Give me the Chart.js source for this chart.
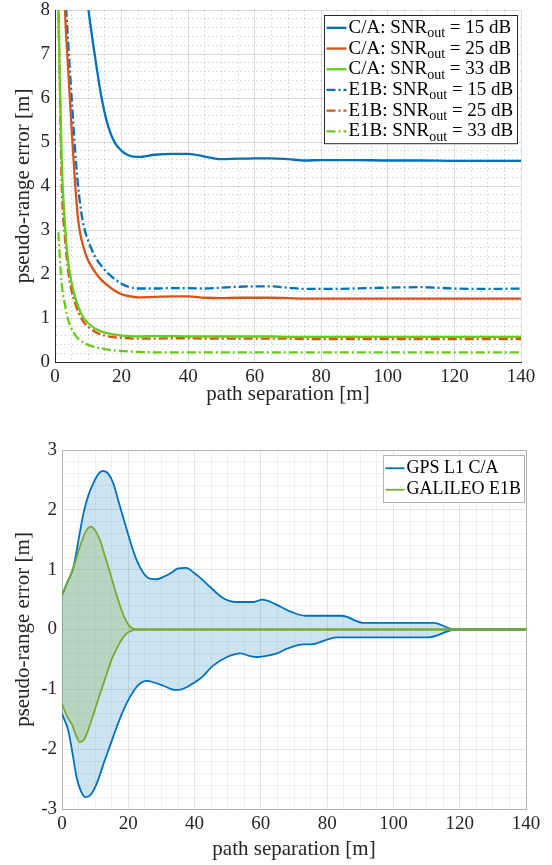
<!DOCTYPE html>
<html>
<head>
<meta charset="utf-8">
<script src="https://cdn.jsdelivr.net/npm/chart.js@4.4.1/dist/chart.umd.min.js"></script>
<style>
  html, body { margin: 0; padding: 0; background: #fff; }
  #wrap { position: relative; width: 552px; height: 865px; }
  canvas { position: absolute; left: 0; }
  #top-chart { top: 0; }
  #bottom-chart { top: 425px; }
</style>
</head>
<body>
<div id="wrap">
  <canvas id="top-chart" width="552" height="425"></canvas>
  <canvas id="bottom-chart" width="552" height="440"></canvas>
</div>
<script>
// ---- top chart data (path separation [m] -> error [m]) ----
const topX = [1, 2, 3, 4, 5, 6, 7, 8, 9, 10, 12, 14, 16, 18, 20, 22, 25, 30, 35, 40, 45, 50, 55, 60, 65, 70, 75, 80, 90, 100, 110, 120, 130, 140];
const caSnr15 = [30, 24, 20, 16.5, 14, 12, 10.6, 9.6, 8.8, 8.05, 6.95, 6.0, 5.35, 4.98, 4.8, 4.7, 4.66, 4.71, 4.73, 4.73, 4.67, 4.61, 4.62, 4.63, 4.63, 4.61, 4.58, 4.59, 4.59, 4.58, 4.58, 4.57, 4.57, 4.57];
const caSnr25 = [14, 10.5, 8.0, 6.6, 5.3, 4.1, 3.2, 2.77, 2.5, 2.3, 2.05, 1.86, 1.73, 1.62, 1.54, 1.5, 1.47, 1.48, 1.49, 1.49, 1.46, 1.45, 1.46, 1.46, 1.46, 1.45, 1.44, 1.44, 1.44, 1.44, 1.44, 1.44, 1.44, 1.44];
const caSnr33 = [8.0, 4.6, 3.1, 2.25, 1.8, 1.48, 1.25, 1.08, 0.96, 0.88, 0.76, 0.69, 0.65, 0.62, 0.6, 0.59, 0.58, 0.59, 0.59, 0.58, 0.58, 0.58, 0.58, 0.58, 0.58, 0.57, 0.57, 0.57, 0.57, 0.57, 0.57, 0.57, 0.57, 0.57];
const e1bSnr15 = [15, 11, 8.6, 7.2, 6.0, 4.85, 3.95, 3.35, 2.98, 2.75, 2.4, 2.18, 2.01, 1.88, 1.78, 1.71, 1.67, 1.67, 1.68, 1.68, 1.67, 1.69, 1.71, 1.72, 1.72, 1.69, 1.66, 1.66, 1.67, 1.69, 1.7, 1.67, 1.66, 1.67];
const e1bSnr25 = [8.3, 4.1, 2.8, 2.05, 1.62, 1.35, 1.13, 0.98, 0.87, 0.8, 0.69, 0.62, 0.58, 0.56, 0.55, 0.54, 0.53, 0.53, 0.54, 0.54, 0.53, 0.53, 0.53, 0.53, 0.53, 0.53, 0.52, 0.52, 0.52, 0.52, 0.52, 0.52, 0.52, 0.52];
const e1bSnr33 = [2.95, 1.8, 1.3, 0.95, 0.75, 0.62, 0.53, 0.47, 0.42, 0.39, 0.34, 0.31, 0.28, 0.26, 0.25, 0.24, 0.23, 0.22, 0.22, 0.22, 0.22, 0.22, 0.22, 0.22, 0.22, 0.22, 0.22, 0.22, 0.22, 0.22, 0.22, 0.22, 0.22, 0.22];

// ---- bottom chart data (error envelopes) ----
const gpsUpperX = [0, 1.7, 3.4, 5, 6.5, 8, 9.5, 11, 12.3, 14, 15.5, 17, 19, 21, 22.6, 24.5, 26.5, 28.5, 31, 33, 35, 37.5, 40, 42, 44.7, 48.2, 50.5, 52.5, 57.8, 60.5, 63, 66, 69, 73.4, 84.4, 91, 112, 118.7, 140];
const gpsUpperY = [0.57, 0.8, 1.03, 1.5, 1.95, 2.25, 2.45, 2.6, 2.65, 2.6, 2.44, 2.15, 1.77, 1.4, 1.15, 0.95, 0.85, 0.84, 0.89, 0.95, 1.02, 1.03, 0.94, 0.85, 0.71, 0.54, 0.48, 0.46, 0.46, 0.5, 0.46, 0.38, 0.3, 0.23, 0.23, 0.11, 0.11, 0, 0];
const gpsLowerX = [0, 1.9, 3.2, 4.4, 5.7, 7, 8.3, 9.5, 11, 12.5, 14.5, 16.5, 18.5, 20.5, 23, 25.6, 28, 30.6, 34.1, 36, 37.7, 41.7, 45.7, 49.8, 53.8, 56.5, 58.8, 60.8, 64.9, 67.9, 72.9, 74.9, 82.9, 110.7, 118.7, 140];
const gpsLowerY = [-1.41, -1.69, -2.08, -2.47, -2.7, -2.8, -2.78, -2.69, -2.5, -2.25, -1.94, -1.63, -1.35, -1.13, -0.93, -0.86, -0.89, -0.94, -1.01, -1.0, -0.96, -0.82, -0.6, -0.46, -0.4, -0.44, -0.46, -0.45, -0.4, -0.32, -0.25, -0.25, -0.13, -0.13, 0, 0];
const galUpperX = [0, 1.7, 3.4, 5.4, 7, 8.6, 10, 11.5, 13, 14.5, 16, 17.5, 19, 20.5, 22.5, 140];
const galUpperY = [0.57, 0.8, 1.03, 1.38, 1.62, 1.72, 1.66, 1.49, 1.22, 0.95, 0.66, 0.4, 0.18, 0.05, 0, 0];
const galLowerX = [0, 1.5, 3.2, 4.3, 5.4, 6.5, 7.5, 9, 10.5, 12, 13.5, 15, 16.5, 18, 19.5, 21, 22.6, 140];
const galLowerY = [-1.24, -1.45, -1.61, -1.78, -1.88, -1.85, -1.74, -1.5, -1.24, -0.99, -0.74, -0.5, -0.32, -0.17, -0.07, -0.02, 0, 0];

const FONT = '"Liberation Serif", "DejaVu Serif", serif';
const BLUE = "#0072BD";
const ORANGE = "#D95319";
const LIME = "#66CC1A";
const OLIVE = "#77AC30";
const DASHDOT = [9, 3, 2, 3];

Chart.defaults.font.family = FONT;
Chart.defaults.color = "#262626";

function isMajor(v, step) {
  return Math.abs(v / step - Math.round(v / step)) < 1e-6;
}

function pts(xs, ys) {
  return xs.map((x, i) => ({ x: x, y: ys[i] }));
}

// legend drawn inside the plot with a box, supports "_out" subscripts
const boxLegend = {
  id: "boxLegend",
  afterDatasetsDraw(chart, args, opts) {
    const ctx = chart.ctx;
    const area = chart.chartArea;
    const items = chart.data.datasets.filter((d) => d.inLegend !== false);
    const font = opts.size + "px " + FONT;
    const subFont = Math.round(opts.size * 0.72) + "px " + FONT;

    ctx.save();
    const parts = items.map((d) => {
      const bits = d.label.split("_out");
      return bits.length > 1 ? [bits[0], "out", bits[1]] : [bits[0]];
    });
    const widths = parts.map((p) => {
      ctx.font = font;
      let w = ctx.measureText(p[0]).width;
      if (p.length > 1) {
        ctx.font = subFont;
        w += ctx.measureText(p[1]).width;
        ctx.font = font;
        w += ctx.measureText(p[2]).width;
      }
      return w;
    });

    const boxW = Math.round(2 + opts.lineLen + 2 + Math.max(...widths) + 4);
    const boxH = items.length * opts.rowH + 4;
    const x0 = Math.round(area.right - opts.marginRight - boxW) + 0.5;
    const y0 = Math.round(area.top + opts.marginTop) + 0.5;

    ctx.fillStyle = "#fff";
    ctx.fillRect(x0, y0, boxW, boxH);
    ctx.strokeStyle = opts.borderColor;
    ctx.lineWidth = 1;
    ctx.strokeRect(x0, y0, boxW, boxH);

    items.forEach((d, i) => {
      const cy = y0 + 2 + opts.rowH * (i + 0.5);
      ctx.strokeStyle = d.borderColor;
      ctx.lineWidth = d.borderWidth;
      ctx.setLineDash(d.borderDash || []);
      ctx.beginPath();
      ctx.moveTo(x0 + 2, cy);
      ctx.lineTo(x0 + 2 + opts.lineLen, cy);
      ctx.stroke();
      ctx.setLineDash([]);

      const p = parts[i];
      let tx = x0 + 2 + opts.lineLen + 2;
      ctx.fillStyle = "#000";
      ctx.textBaseline = "middle";
      ctx.textAlign = "left";
      ctx.font = font;
      ctx.fillText(p[0], tx, cy);
      tx += ctx.measureText(p[0]).width;
      if (p.length > 1) {
        ctx.font = subFont;
        ctx.fillText(p[1], tx, cy + opts.size * 0.3);
        tx += ctx.measureText(p[1]).width;
        ctx.font = font;
        ctx.fillText(p[2], tx, cy);
      }
    });
    ctx.restore();
  },
};

function lineSet(label, xs, ys, color, dash) {
  return {
    label: label,
    data: pts(xs, ys),
    borderColor: color,
    borderWidth: 2.3,
    borderDash: dash || [],
    pointRadius: 0,
    fill: false,
    cubicInterpolationMode: "monotone",
  };
}

// ---------------- top chart ----------------
const topCtx = document.getElementById("top-chart").getContext("2d");
const topChart = new Chart(topCtx, {
  type: "line",
  data: {
    datasets: [
      lineSet("C/A: SNR_out = 15 dB", topX, caSnr15, BLUE),
      lineSet("C/A: SNR_out = 25 dB", topX, caSnr25, ORANGE),
      lineSet("C/A: SNR_out = 33 dB", topX, caSnr33, LIME),
      lineSet("E1B: SNR_out = 15 dB", topX, e1bSnr15, BLUE, DASHDOT),
      lineSet("E1B: SNR_out = 25 dB", topX, e1bSnr25, ORANGE, DASHDOT),
      lineSet("E1B: SNR_out = 33 dB", topX, e1bSnr33, LIME, DASHDOT),
    ],
  },
  plugins: [boxLegend],
  options: {
    responsive: false,
    animation: false,
    devicePixelRatio: 1,
    events: [],
    layout: { padding: { top: 10, right: 31, left: 0, bottom: 0 } },
    scales: {
      x: {
        type: "linear",
        min: 0,
        max: 140,
        afterFit: (s) => {
          s.height = 63;
          s.paddingLeft = 0;
          s.paddingRight = 0;
        },
        ticks: {
          stepSize: 5,
          autoSkip: false,
          maxRotation: 0,
          padding: 4,
          font: { size: 19 },
          callback: (v) => (isMajor(v, 20) ? String(Math.round(v)) : ""),
        },
        grid: {
          drawTicks: false,
          lineWidth: 1,
          color: (c) =>
            c.tick && isMajor(c.tick.value, 20) ? "rgba(0,0,0,0.14)" : "rgba(0,0,0,0.16)",
        },
        border: {
          display: true,
          color: "#262626",
          width: 1,
          dash: (c) => (c.tick && !isMajor(c.tick.value, 20) ? [1.5, 2.5] : []),
        },
        title: {
          display: true,
          text: "path separation [m]",
          font: { size: 21 },
          padding: { top: 0, bottom: 18 },
        },
      },
      y: {
        type: "linear",
        min: 0,
        max: 8,
        afterFit: (s) => {
          s.width = 55;
          s.paddingTop = 0;
          s.paddingBottom = 0;
        },
        ticks: {
          stepSize: 0.2,
          maxTicksLimit: 1000,
          autoSkip: false,
          padding: 5,
          font: { size: 19 },
          callback: (v) => (isMajor(v, 1) ? String(Math.round(v)) : ""),
        },
        grid: {
          drawTicks: false,
          lineWidth: 1,
          color: (c) =>
            c.tick && isMajor(c.tick.value, 1) ? "rgba(0,0,0,0.14)" : "rgba(0,0,0,0.16)",
        },
        border: {
          display: true,
          color: "#262626",
          width: 1,
          dash: (c) => (c.tick && !isMajor(c.tick.value, 1) ? [1.5, 2.5] : []),
        },
        title: {
          display: true,
          text: "pseudo-range error [m]",
          font: { size: 21 },
          padding: { top: 11, bottom: 0 },
        },
      },
    },
    plugins: {
      legend: { display: false },
      tooltip: { enabled: false },
      boxLegend: {
        size: 19,
        rowH: 20.7,
        lineLen: 20,
        marginRight: 4,
        marginTop: 5,
        borderColor: "#262626",
      },
    },
  },
});

// ---------------- bottom chart ----------------
function bandSet(label, xs, ys, color, fillColor, inLegend, order) {
  return {
    label: label,
    inLegend: inLegend,
    data: pts(xs, ys),
    borderColor: color,
    borderWidth: 1.8,
    backgroundColor: fillColor,
    fill: fillColor ? "+1" : false,
    pointRadius: 0,
    order: order,
    cubicInterpolationMode: "monotone",
  };
}

const bottomCtx = document.getElementById("bottom-chart").getContext("2d");
const bottomChart = new Chart(bottomCtx, {
  type: "line",
  data: {
    datasets: [
      bandSet("GPS L1 C/A", gpsUpperX, gpsUpperY, BLUE, "rgba(0,114,189,0.2)", true, 2),
      bandSet("GPS L1 C/A lower", gpsLowerX, gpsLowerY, BLUE, null, false, 2),
      bandSet("GALILEO E1B", galUpperX, galUpperY, OLIVE, "rgba(119,172,48,0.25)", true, 1),
      bandSet("GALILEO E1B lower", galLowerX, galLowerY, OLIVE, null, false, 1),
    ],
  },
  plugins: [boxLegend],
  options: {
    responsive: false,
    animation: false,
    devicePixelRatio: 1,
    events: [],
    layout: { padding: { top: 25, right: 26, left: 0, bottom: 0 } },
    scales: {
      x: {
        type: "linear",
        min: 0,
        max: 140,
        afterFit: (s) => {
          s.height = 56;
          s.paddingLeft = 0;
          s.paddingRight = 0;
        },
        ticks: {
          stepSize: 5,
          autoSkip: false,
          maxRotation: 0,
          padding: 4,
          font: { size: 19 },
          callback: (v) => (isMajor(v, 20) ? String(Math.round(v)) : ""),
        },
        grid: {
          drawTicks: false,
          lineWidth: 1,
          color: (c) => {
            if (!c.tick) return "rgba(0,0,0,0.1)";
            if (c.tick.value === 140) return "#b4b4b4";
            return isMajor(c.tick.value, 20) ? "rgba(0,0,0,0.1)" : "rgba(0,0,0,0.05)";
          },
        },
        border: { display: true, color: "#b4b4b4", width: 1 },
        title: {
          display: true,
          text: "path separation [m]",
          font: { size: 21 },
          padding: { top: 0, bottom: 3 },
        },
      },
      y: {
        type: "linear",
        min: -3,
        max: 3,
        afterFit: (s) => {
          s.width = 62;
          s.paddingTop = 0;
          s.paddingBottom = 0;
        },
        ticks: {
          stepSize: 0.2,
          maxTicksLimit: 1000,
          autoSkip: false,
          padding: 5,
          font: { size: 19 },
          callback: (v) => (isMajor(v, 1) ? String(Math.round(v)) : ""),
        },
        grid: {
          drawTicks: false,
          lineWidth: 1,
          color: (c) => {
            if (!c.tick) return "rgba(0,0,0,0.1)";
            if (Math.abs(c.tick.value - 3) < 1e-6) return "#b4b4b4";
            return isMajor(c.tick.value, 1) ? "rgba(0,0,0,0.1)" : "rgba(0,0,0,0.05)";
          },
        },
        border: { display: true, color: "#b4b4b4", width: 1 },
        title: {
          display: true,
          text: "pseudo-range error [m]",
          font: { size: 21 },
          padding: { top: 11, bottom: 0 },
        },
      },
    },
    plugins: {
      legend: { display: false },
      tooltip: { enabled: false },
      filler: { drawTime: "beforeDatasetsDraw" },
      boxLegend: {
        size: 18,
        rowH: 21.5,
        lineLen: 19,
        marginRight: 2,
        marginTop: 5,
        borderColor: "#b4b4b4",
      },
    },
  },
});
</script>
</body>
</html>
